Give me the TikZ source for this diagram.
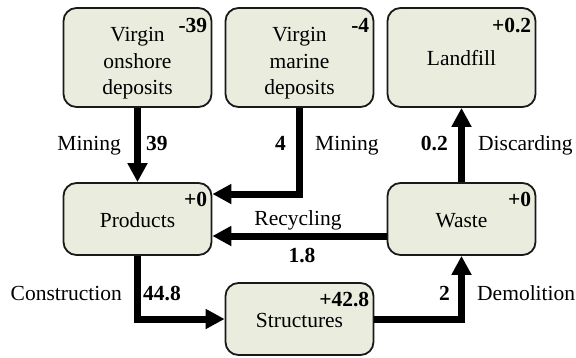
\documentclass[tikz,border=0pt]{standalone}
\usepackage{fontspec}
\newfontfamily\diagfont{Liberation Serif}
\usetikzlibrary{arrows.meta}
\definecolor{stockfill}{RGB}{234,237,222}
% struts that set the height of the first text line inside the boxes
\newcommand\boxstrut{\rule[-5pt]{0pt}{26pt}}
\newcommand\firstline{\rule{0pt}{26pt}}
\begin{document}
\begin{tikzpicture}[x=1pt,y=-1pt,
  font=\diagfont\fontsize{21.5}{26.5}\selectfont,
  stock/.style={draw=black!90, line width=1.8pt, fill=stockfill,
    rounded corners=13pt, minimum width=148pt, inner sep=0pt,
    align=center, execute at begin node=\boxstrut},
  tall/.style={stock, minimum height=99pt},
  short/.style={stock, minimum height=72pt},
  balance/.style={font=\diagfont\fontsize{21.5}{26.5}\selectfont\bfseries, inner sep=0pt, anchor=base east},
  amount/.style={font=\diagfont\fontsize{21.5}{26.5}\selectfont\bfseries, inner sep=0pt},
  process/.style={inner sep=0pt},
  flow/.style={line width=7pt, -{Triangle[length=19pt,width=19pt]}}]
\useasboundingbox (0,0) rectangle (576,357);

% stocks
\node[tall]  (ons)   at (137.5,57.5) {\firstline Virgin\\onshore\\deposits};
\node[tall]  (mar)   at (299.5,57.5) {\firstline Virgin\\marine\\deposits};
\node[tall]  (land)  at (461.5,57.5) {Landfill};
\node[short] (prod)  at (137.5,219)  {Products};
\node[short] (waste) at (461.5,219)  {Waste};
\node[short] (str)   at (299.5,319)  {Structures};

% stock changes
\node[balance] (onsb)   at ([xshift=-5pt,yshift=-25pt]ons.north east)   {-39};
\node[balance] (marb)   at ([xshift=-5pt,yshift=-25pt]mar.north east)   {-4};
\node[balance] (landb)  at ([xshift=-5pt,yshift=-25pt]land.north east)  {+0.2};
\node[balance] (prodb)  at ([xshift=-5pt,yshift=-24pt]prod.north east)  {+0};
\node[balance] (wasteb) at ([xshift=-5pt,yshift=-24pt]waste.north east) {+0};
\node[balance] (strb)   at ([xshift=-5pt,yshift=-24pt]str.north east)   {+42.8};

% flows
\draw[flow] (ons.south) -- (prod.north);
\draw[flow] (mar.south) |- ([yshift=25pt]prod.east);
\draw[flow] ([yshift=-17pt]waste.west) -- ([yshift=-17pt]prod.east);
\draw[flow] (waste.north) -- (land.south);
\draw[flow] (prod.south) |- (str.west);
\draw[flow] (str.east) -| (waste.south);

% flow labels
\node[process, anchor=base east] (m1)  at (121,150) {Mining};
\node[amount,  anchor=base west] (m1v) at (146,150) {39};
\node[amount,  anchor=base east] (m2v) at (286,150) {4};
\node[process, anchor=base west] (m2)  at (315,150) {Mining};
\node[amount,  anchor=base east] (dv)  at (448,150) {0.2};
\node[process, anchor=base west] (d)   at (478,150) {Discarding};
\node[process, anchor=base]      (r)   at (298,225) {Recycling};
\node[amount,  anchor=base]      (rv)  at (302,262) {1.8};
\node[process, anchor=base east] (c)   at (122,300) {Construction};
\node[amount,  anchor=base west] (cv)  at (143,300) {44.8};
\node[amount,  anchor=base east] (dmv) at (450,300) {2};
\node[process, anchor=base west] (dm)  at (477,300) {Demolition};
\end{tikzpicture}
\end{document}
